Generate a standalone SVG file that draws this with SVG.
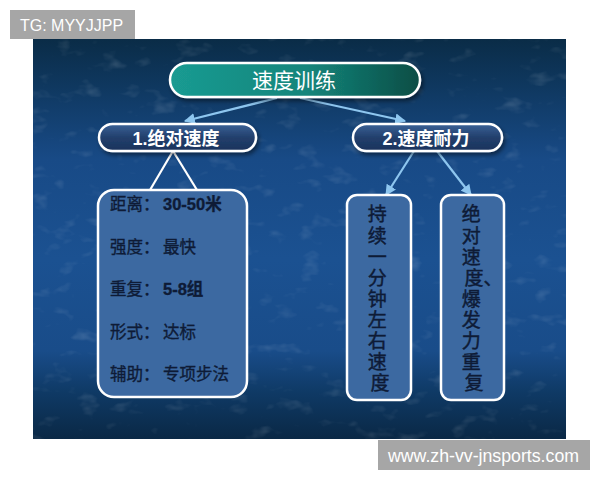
<svg xmlns="http://www.w3.org/2000/svg" width="600" height="480" viewBox="0 0 600 480">
  <defs>
    <linearGradient id="slideBg" x1="0" y1="0" x2="0" y2="1">
      <stop offset="0" stop-color="#0a2c47"/>
      <stop offset="0.12" stop-color="#0f3860"/>
      <stop offset="0.3" stop-color="#184a86"/>
      <stop offset="0.55" stop-color="#1b5191"/>
      <stop offset="0.78" stop-color="#194c89"/>
      <stop offset="0.88" stop-color="#0f3a66"/>
      <stop offset="1" stop-color="#0a2845"/>
    </linearGradient>
    <linearGradient id="titleFill" x1="0" y1="0" x2="1" y2="0">
      <stop offset="0" stop-color="#1a9b92"/>
      <stop offset="0.55" stop-color="#14857b"/>
      <stop offset="1" stop-color="#0b4d45"/>
    </linearGradient>
    <linearGradient id="subFill" x1="0" y1="0" x2="0" y2="1">
      <stop offset="0" stop-color="#3a6297"/>
      <stop offset="0.5" stop-color="#223f6c"/>
      <stop offset="1" stop-color="#1a335c"/>
    </linearGradient>
    <filter id="grain" x="0" y="0" width="100%" height="100%">
      <feTurbulence type="fractalNoise" baseFrequency="0.04 0.07" numOctaves="3" seed="7" result="n"/>
      <feColorMatrix type="matrix" values="0 0 0 0 1  0 0 0 0 1  0 0 0 0 1  0 0 0 1.6 -0.95"/>
    </filter>
    <filter id="shadow" x="-10%" y="-10%" width="120%" height="140%">
      <feDropShadow dx="2" dy="3" stdDeviation="2" flood-color="#000" flood-opacity="0.45"/>
    </filter>
    <marker id="arrow" viewBox="0 0 10 10" refX="9" refY="5" markerWidth="5" markerHeight="5" orient="auto" markerUnits="strokeWidth">
      <path d="M0,0 L10,5 L0,10 Z" fill="#8ec6ef"/>
    </marker>
    <style>
      .ln { stroke-width: 2.2; fill: none; }
      .blue { stroke: #8ec6ef; }
      .white { stroke: #ffffff; }
      .frame { stroke: #ffffff; stroke-width: 2.5; }
      .hdr { font-family: "Liberation Sans", "Noto Sans CJK SC", sans-serif; fill: #ffffff; text-anchor: middle; }
      .item { font-family: "Liberation Sans", "Noto Sans CJK SC", sans-serif; font-size: 16.5px; fill: #0e1b36; stroke: #0e1b36; stroke-width: 0.35; }
      .col { font-family: "Liberation Sans", "Noto Sans CJK SC", sans-serif; font-size: 19px; fill: #0e1b36; stroke: #0e1b36; stroke-width: 0.45; text-anchor: middle; }
      .wm { font-family: "Liberation Sans", sans-serif; fill: #ffffff; }
    </style>
  </defs>

  <rect x="0" y="0" width="600" height="480" fill="#ffffff"/>

  <!-- slide background -->
  <rect x="33" y="39" width="533" height="400" fill="url(#slideBg)"/>
  <rect x="33" y="39" width="533" height="400" filter="url(#grain)" opacity="0.25"/>

  <!-- connectors -->
  <g id="connectors">
    <line class="ln blue" x1="277" y1="98" x2="185" y2="121" marker-end="url(#arrow)"/>
    <line class="ln blue" x1="300" y1="98" x2="405" y2="121" marker-end="url(#arrow)"/>
    <line class="ln white" x1="173" y1="151" x2="150" y2="190"/>
    <line class="ln white" x1="173" y1="151" x2="197" y2="190"/>
    <line class="ln blue" x1="414" y1="151" x2="386" y2="195" marker-end="url(#arrow)"/>
    <line class="ln blue" x1="437" y1="151" x2="471" y2="195" marker-end="url(#arrow)"/>
  </g>

  <g id="title">
    <rect x="170" y="63" width="250" height="34" rx="17" fill="url(#titleFill)" class="frame" filter="url(#shadow)"/>
    <text class="hdr" x="294" y="88" font-size="21">速度训练</text>
  </g>

  <g id="absolute-speed">
    <rect x="99" y="124" width="157" height="27" rx="13.5" fill="url(#subFill)" class="frame" filter="url(#shadow)"/>
    <text class="hdr" x="176" y="145" font-size="18" font-weight="bold">1.绝对速度</text>
  </g>

  <g id="speed-endurance">
    <rect x="353" y="124" width="149" height="27" rx="13.5" fill="url(#subFill)" class="frame" filter="url(#shadow)"/>
    <text class="hdr" x="426" y="145" font-size="18" font-weight="bold">2.速度耐力</text>
  </g>

  <g id="details">
    <rect x="98" y="190" width="149" height="207" rx="16" fill="#3c69a1" class="frame"/>
    <text class="item" x="110" y="210">距离：<tspan x="163" font-weight="bold">30-50米</tspan></text>
    <text class="item" x="110" y="252.5">强度：<tspan x="163">最快</tspan></text>
    <text class="item" x="110" y="295">重复：<tspan x="163" font-weight="bold">5-8组</tspan></text>
    <text class="item" x="110" y="337.5">形式：<tspan x="163">达标</tspan></text>
    <text class="item" x="110" y="380">辅助：<tspan x="163">专项步法</tspan></text>
  </g>

  <g id="one-minute">
    <rect x="347" y="195" width="64" height="205" rx="10" fill="#3c69a1" class="frame"/>
    <text class="col">
      <tspan x="380" y="221">持</tspan>
      <tspan x="380" y="243">续</tspan>
      <tspan x="380" y="264">一</tspan>
      <tspan x="380" y="285">分</tspan>
      <tspan x="380" y="306">钟</tspan>
      <tspan x="380" y="327">左</tspan>
      <tspan x="380" y="348">右</tspan>
      <tspan x="380" y="369">速</tspan>
      <tspan x="380" y="390">度</tspan>
    </text>
  </g>

  <g id="power-repeat">
    <rect x="441" y="195" width="63" height="205" rx="10" fill="#3c69a1" class="frame"/>
    <text class="col">
      <tspan x="474" y="221">绝</tspan>
      <tspan x="474" y="243">对</tspan>
      <tspan x="474" y="264">速</tspan>
      <tspan x="464.5" y="285" text-anchor="start">度、</tspan>
      <tspan x="474" y="306">爆</tspan>
      <tspan x="474" y="327">发</tspan>
      <tspan x="474" y="348">力</tspan>
      <tspan x="474" y="369">重</tspan>
      <tspan x="474" y="390">复</tspan>
    </text>
  </g>

  <!-- watermarks -->
  <rect x="10" y="10" width="125" height="29" fill="#a6a6a6"/>
  <text class="wm" x="20" y="31" font-size="16">TG: MYYJJPP</text>
  <rect x="378" y="440" width="212" height="30" fill="#a6a6a6"/>
  <text class="wm" x="388" y="462" font-size="18" textLength="191" lengthAdjust="spacingAndGlyphs">www.zh-vv-jnsports.com</text>
</svg>
